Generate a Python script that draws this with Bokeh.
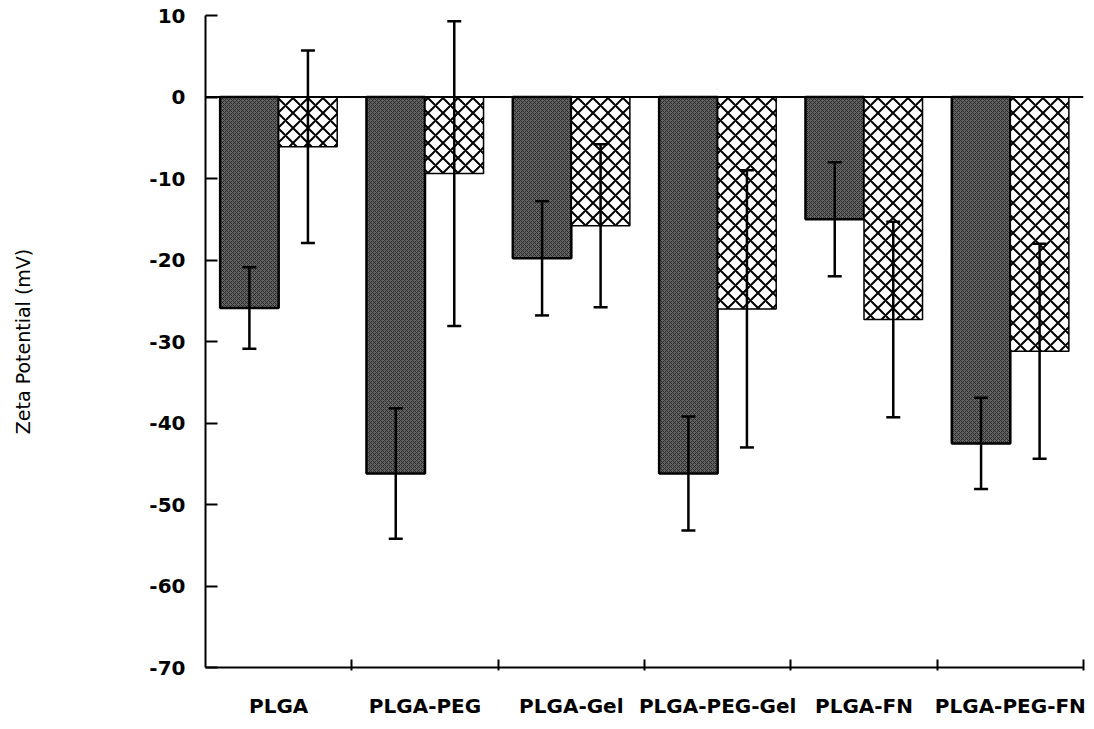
import numpy as np
from bokeh.plotting import figure
from bokeh.models import (ColumnDataSource, Range1d, FixedTicker, Whisker, TeeHead, Span)
from bokeh.embed import file_html
from bokeh.resources import INLINE

# ---- data ----
categories = ["PLGA", "PLGA-PEG", "PLGA-Gel", "PLGA-PEG-Gel", "PLGA-FN", "PLGA-PEG-FN"]
series_a = [-25.9, -46.2, -19.8, -46.2, -15.0, -42.5]      # dark bars
series_a_err = [5.0, 8.0, 7.0, 7.0, 7.0, 5.6]
series_b = [-6.1, -9.4, -15.8, -26.0, -27.3, -31.2]        # cross-hatched bars
series_b_err = [11.8, 18.7, 10.0, 17.0, 12.0, 13.2]
y_ticks = [-70, -60, -50, -40, -30, -20, -10, 0, 10]
y_label = "Zeta Potential (mV)"

FONT = "DejaVu Sans"
idx = np.arange(len(categories))
bar_w = 0.4

src_a = ColumnDataSource(dict(
    x=idx + 0.5 - bar_w / 2, v=series_a,
    up=np.array(series_a) + np.array(series_a_err),
    lo=np.array(series_a) - np.array(series_a_err)))
src_b = ColumnDataSource(dict(
    x=idx + 0.5 + bar_w / 2, v=series_b,
    up=np.array(series_b) + np.array(series_b_err),
    lo=np.array(series_b) - np.array(series_b_err)))

p = figure(width=1090, height=720, output_backend="svg", toolbar_location=None,
           x_range=Range1d(0, len(categories)), y_range=Range1d(-70, 10),
           min_border_left=205, min_border_right=7, min_border_top=15, min_border_bottom=45)
p.outline_line_color = None
p.xgrid.visible = False
p.ygrid.visible = False
p.background_fill_color = "white"

p.vbar(x="x", top=0, bottom="v", width=bar_w, source=src_a,
       fill_color="#646464", line_color="black", line_width=2.5,
       hatch_pattern="x", hatch_scale=4, hatch_color="#2a2a2a", hatch_weight=1)
p.vbar(x="x", top=0, bottom="v", width=bar_w, source=src_b,
       fill_color="white", line_color="black", line_width=1.5,
       hatch_pattern="x", hatch_scale=15, hatch_color="black", hatch_weight=2)

for src in (src_a, src_b):
    w = Whisker(base="x", upper="up", lower="lo", source=src, level="overlay",
                line_color="black", line_width=2.5,
                upper_head=TeeHead(size=14, line_width=2.5, line_color="black"),
                lower_head=TeeHead(size=14, line_width=2.5, line_color="black"))
    p.add_layout(w)

p.add_layout(Span(location=0, dimension="width", line_color="black", line_width=2))

# x axis
xa = p.xaxis[0]
xa.ticker = FixedTicker(ticks=list(idx + 0.5), minor_ticks=list(idx + 1))
xa.major_label_overrides = {float(i + 0.5): c for i, c in enumerate(categories)}
xa.major_tick_line_color = None
xa.minor_tick_in = 8
xa.minor_tick_out = 3
xa.minor_tick_line_width = 2
xa.minor_tick_line_color = "black"
xa.axis_line_width = 2
xa.axis_line_color = "black"
xa.major_label_text_font = FONT
xa.major_label_text_font_style = "bold"
xa.major_label_text_font_size = "20px"
xa.major_label_text_color = "black"
xa.major_label_standoff = 20

# y axis
ya = p.yaxis[0]
ya.ticker = FixedTicker(ticks=y_ticks)
ya.major_label_overrides = {t: str(t) for t in y_ticks}
ya.major_tick_in = 12
ya.major_tick_out = 0
ya.major_tick_line_width = 2
ya.major_tick_line_color = "black"
ya.minor_tick_line_color = None
ya.axis_line_width = 2
ya.axis_line_color = "black"
ya.major_label_text_font = FONT
ya.major_label_text_font_style = "bold"
ya.major_label_text_font_size = "20px"
ya.major_label_text_color = "black"
ya.major_label_standoff = 20
ya.axis_label = y_label
ya.axis_label_text_font = FONT
ya.axis_label_text_font_style = "normal"
ya.axis_label_text_font_size = "19px"
ya.axis_label_text_color = "black"
ya.axis_label_standoff = 112

open("out.html", "w").write(file_html(p, INLINE))
